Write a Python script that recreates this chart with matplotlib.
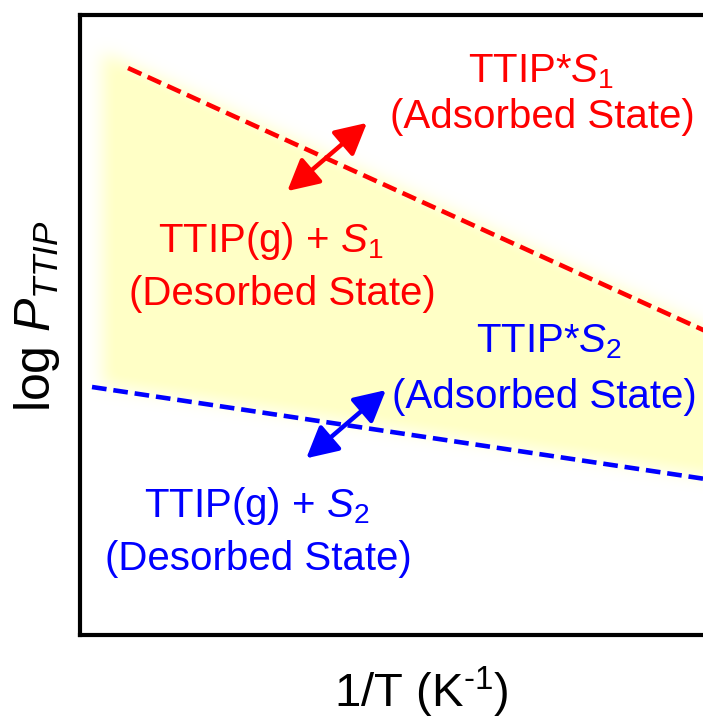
import numpy as np
import matplotlib
matplotlib.use("Agg")
import matplotlib.pyplot as plt
from matplotlib.patches import FancyArrowPatch

plt.rcParams['font.family'] = ['Liberation Sans', 'DejaVu Sans']
plt.rcParams['mathtext.fontset'] = 'custom'
plt.rcParams['mathtext.rm'] = 'Liberation Sans'
plt.rcParams['mathtext.it'] = 'Liberation Sans:italic'

# lignes de seuil (unites arbitraires : x = 1/T, y = log P)
red_x = [0.76, 10.0]
red_y = [9.145, 4.855]
blue_x = [0.19, 10.0]
blue_y = [4.0, 2.5]
fill_x0 = 0.30  # debut de la zone jaune

# fleches (queue, tete)
red_arrow = [(3.28, 7.16), (4.54, 8.26)]
blue_arrow = [(3.58, 2.85), (4.84, 3.95)]

# etiquettes : (x, y, texte, couleur)
labels = [
    (7.29, 8.92, r"TTIP*$S_1$", "red"),
    (7.31, 8.18, "(Adsorbed State)", "red"),
    (3.01, 6.18, r"TTIP(g) + $S_1$", "red"),
    (3.21, 5.32, "(Desorbed State)", "red"),
    (7.42, 4.56, r"TTIP*$S_2$", "blue"),
    (7.34, 3.66, "(Adsorbed State)", "blue"),
    (2.80, 1.90, r"TTIP(g) + $S_2$", "blue"),
    (2.83, 1.05, "(Desorbed State)", "blue"),
]


def line_at(xs, ys, x):
    k = (ys[1] - ys[0]) / (xs[1] - xs[0])
    return ys[0] + k * (x - xs[0])


def blur(a, n):
    ker = np.ones(n) / n
    for _ in range(3):
        a = np.apply_along_axis(lambda r: np.convolve(r, ker, mode='same'), 1, a)
        a = np.apply_along_axis(lambda r: np.convolve(r, ker, mode='same'), 0, a)
    return a


fig = plt.figure(figsize=(7.03, 7.22), dpi=100)
ax = fig.add_axes([80 / 703, 87 / 722, 632 / 703, 620 / 722])

# zone jaune floue entre les deux droites
N = 320
gx, gy = np.meshgrid(np.linspace(0, 11.5, int(N * 1.15)), np.linspace(0, 10, N))
top = line_at(red_x, red_y, gx)
bot = line_at(blue_x, blue_y, gx)
mask = ((gx >= fill_x0) & (gy <= top) & (gy >= bot)).astype(float)
mask = blur(mask, 8)
img = np.zeros(mask.shape + (4,))
img[..., 0] = 1.0
img[..., 1] = 1.0
img[..., 2] = 0.78
img[..., 3] = np.clip(mask * 1.05, 0, 1)
ax.imshow(img, extent=[0, 11.5, 0, 10], origin='lower', aspect='auto',
          interpolation='bilinear', zorder=0)
ax.set_xlim(0, 10)
ax.set_ylim(0, 10)

ax.plot(red_x, red_y, color='red', lw=3.3, ls=(0, (3.2, 1.5)), zorder=2)
ax.plot(blue_x, blue_y, color='blue', lw=3.3, ls=(0, (3.2, 1.5)), zorder=2)

for (p0, p1), c in [(red_arrow, 'red'), (blue_arrow, 'blue')]:
    arr = FancyArrowPatch(p0, p1, arrowstyle='<|-|>,head_length=19,head_width=10',
                          mutation_scale=1, color=c, lw=3.2, shrinkA=0, shrinkB=0,
                          zorder=3)
    ax.add_patch(arr)

for x, y, s, c in labels:
    ax.text(x, y, s, color=c, fontsize=29, ha='center', va='baseline', zorder=4)

for sp in ax.spines.values():
    sp.set_linewidth(3)
ax.set_xticks([])
ax.set_yticks([])

fig.text(421 / 703, 15 / 722, r"1/T (K$^{\text{-}1}$)", fontsize=34,
         ha='center', va='baseline')
fig.text(37 / 703, 1 - 316 / 722, r"log $P_{TTIP}$", fontsize=36,
         rotation=90, ha='center', va='center')

fig.savefig("out.png", dpi=100)
